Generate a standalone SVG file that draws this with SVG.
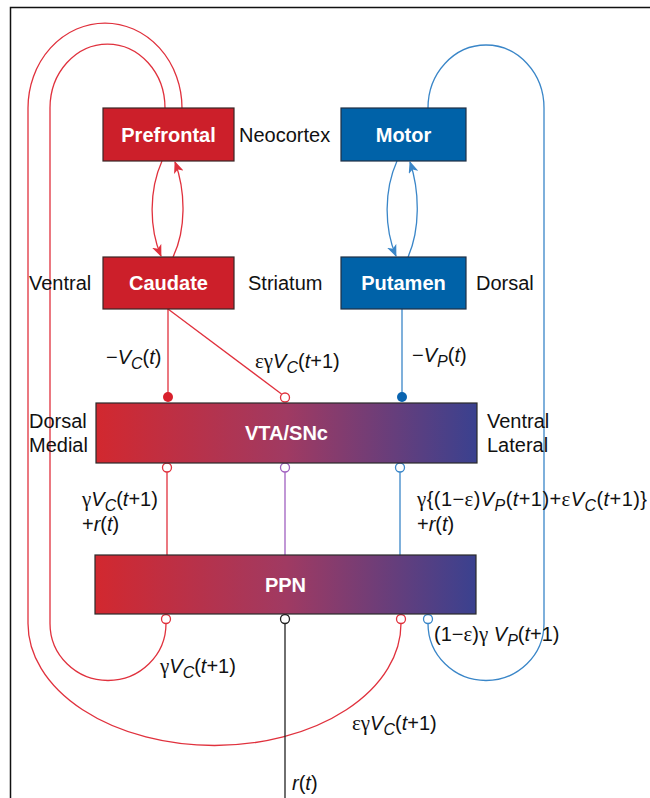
<svg xmlns="http://www.w3.org/2000/svg" width="650" height="798" viewBox="0 0 650 798">
<style>
.bxr{fill:#cc1f2a;stroke:#3a2626;stroke-width:1.2}
.bxb{fill:#0062a8;stroke:#1f2f45;stroke-width:1.2}
.bxg{stroke:#2a2a2a;stroke-width:1.2}
.bt{font-family:"Liberation Sans",Arial,sans-serif;font-weight:bold;font-size:20px;fill:#fff;text-anchor:middle}
.lb{font-family:"Liberation Sans",Arial,sans-serif;font-size:20px;fill:#111}
.m{font-family:"Liberation Sans",Arial,sans-serif;font-size:20px;fill:#111}
.i{font-style:italic}
.g{font-family:"Liberation Serif","Times New Roman",serif;font-style:normal;font-size:21px}
.s{font-size:16px;font-style:italic}
.lr{stroke:#e0313d;fill:none;stroke-width:1.3}
.lbl{stroke:#3a86c8;fill:none;stroke-width:1.3}
.lp{stroke:#a060c0;fill:none;stroke-width:1.3}
.lk{stroke:#222;fill:none;stroke-width:1.3}
.cor{fill:#fff;stroke:#e0313d;stroke-width:1.3}
.cob{fill:#fff;stroke:#3a86c8;stroke-width:1.3}
.cop{fill:#fff;stroke:#a060c0;stroke-width:1.3}
.cok{fill:#fff;stroke:#222;stroke-width:1.3}
</style>
<defs>
<linearGradient id="grad" x1="0" y1="0" x2="1" y2="0">
<stop offset="0" stop-color="#d2282f"/>
<stop offset="0.5" stop-color="#a03a62"/>
<stop offset="1" stop-color="#3a418f"/>
</linearGradient>
<marker id="ar" viewBox="0 0 12 10" refX="11" refY="5" markerWidth="12" markerHeight="10" markerUnits="userSpaceOnUse" orient="auto">
<path d="M0,0 L12,5 L0,10 L3,5 z" fill="#e0313d"/>
</marker>
<marker id="ab" viewBox="0 0 12 10" refX="11" refY="5" markerWidth="12" markerHeight="10" markerUnits="userSpaceOnUse" orient="auto">
<path d="M0,0 L12,5 L0,10 L3,5 z" fill="#3a86c8"/>
</marker>
</defs>
<rect width="650" height="798" fill="#fff"/>
<path d="M10.5 798 V7.5 H650" fill="none" stroke="#111" stroke-width="1.5"/>

<g id="connectors">
<path class="lr" d="M401 623.5 A186.5 122 0 0 1 28 623.5 L28 108 A77 85 0 0 1 182 108"/>
<path class="lr" d="M166 623.5 A58 57 0 0 1 50 623.5 L50 108 A57.5 64 0 0 1 165 108"/>
<path class="lbl" d="M428 623.5 A58 57 0 0 0 544 623.5 L544 108 A58 63 0 0 0 428 108"/>
<path class="lr" d="M162 161 C149 190 149 228 161 256" marker-end="url(#ar)"/>
<path class="lr" d="M173 257 C186 230 186 192 175 162" marker-end="url(#ar)"/>
<path class="lbl" d="M397 161 C384 190 384 228 396 256" marker-end="url(#ab)"/>
<path class="lbl" d="M408 257 C420 230 420 192 410 162" marker-end="url(#ab)"/>
<line class="lr" x1="168" y1="309" x2="168" y2="393"/>
<circle cx="168" cy="397" r="5" fill="#d8202c"/>
<line class="lr" x1="168" y1="309" x2="281.5" y2="394"/>
<circle class="cor" cx="285" cy="397.5" r="4.5"/>
<line class="lbl" x1="402" y1="309" x2="402" y2="393"/>
<circle cx="402" cy="397" r="5" fill="#0a64b0"/>
<line class="lr" x1="167" y1="472" x2="167" y2="555"/>
<circle class="cor" cx="167" cy="467.5" r="4.5"/>
<line class="lp" x1="285" y1="472" x2="285" y2="555"/>
<circle class="cop" cx="285" cy="467.5" r="4.5"/>
<line class="lbl" x1="400" y1="472" x2="400" y2="555"/>
<circle class="cob" cx="400" cy="467.5" r="4.5"/>
<circle class="cor" cx="166" cy="619" r="4.5"/>
<line class="lk" x1="285" y1="623.5" x2="285" y2="798"/>
<circle class="cok" cx="285" cy="619" r="4.5"/>
<circle class="cor" cx="401" cy="619" r="4.5"/>
<circle class="cob" cx="428" cy="619" r="4.5"/>
</g>

<g id="prefrontal"><rect class="bxr" x="103" y="108" width="131" height="53"/><text class="bt" x="168.5" y="142">Prefrontal</text></g>
<g id="motor"><rect class="bxb" x="341" y="108" width="125" height="53"/><text class="bt" x="403.5" y="142">Motor</text></g>
<g id="caudate"><rect class="bxr" x="103" y="257" width="131" height="52"/><text class="bt" x="168.5" y="290">Caudate</text></g>
<g id="putamen"><rect class="bxb" x="341" y="257" width="125" height="52"/><text class="bt" x="403.5" y="290">Putamen</text></g>
<g id="vta"><rect class="bxg" x="96" y="403" width="381" height="60" fill="url(#grad)"/><text class="bt" x="286.5" y="440">VTA/SNc</text></g>
<g id="ppn"><rect class="bxg" x="95" y="555" width="381" height="59" fill="url(#grad)"/><text class="bt" x="285.5" y="592">PPN</text></g>

<g id="labels">
<text class="lb" x="239" y="142">Neocortex</text>
<text class="lb" x="248" y="290">Striatum</text>
<text class="lb" x="29" y="290">Ventral</text>
<text class="lb" x="476" y="290">Dorsal</text>
<text class="lb" x="29" y="428">Dorsal</text>
<text class="lb" x="29" y="452">Medial</text>
<text class="lb" x="487" y="428">Ventral</text>
<text class="lb" x="487" y="452">Lateral</text>

<text class="m" x="106" y="364">−<tspan class="i">V</tspan><tspan class="s" dy="5">C</tspan><tspan dy="-5">(</tspan><tspan class="i">t</tspan>)</text>
<text class="m" x="255" y="368"><tspan class="g">εγ</tspan><tspan class="i">V</tspan><tspan class="s" dy="5">C</tspan><tspan dy="-5">(</tspan><tspan class="i">t</tspan>+1)</text>
<text class="m" x="412" y="362">−<tspan class="i">V</tspan><tspan class="s" dy="5">P</tspan><tspan dy="-5">(</tspan><tspan class="i">t</tspan>)</text>

<text class="m" x="82" y="506"><tspan class="g">γ</tspan><tspan class="i">V</tspan><tspan class="s" dy="5">C</tspan><tspan dy="-5">(</tspan><tspan class="i">t</tspan>+1)</text>
<text class="m" x="82" y="531">+<tspan class="i">r</tspan>(<tspan class="i">t</tspan>)</text>
<text class="m" x="417" y="506" textLength="230" lengthAdjust="spacing"><tspan class="g">γ</tspan>{(1−<tspan class="g">ε</tspan>)<tspan class="i">V</tspan><tspan class="s" dy="5">P</tspan><tspan dy="-5">(</tspan><tspan class="i">t</tspan>+1)+<tspan class="g">ε</tspan><tspan class="i">V</tspan><tspan class="s" dy="5">C</tspan><tspan dy="-5">(</tspan><tspan class="i">t</tspan>+1)}</text>
<text class="m" x="417" y="531">+<tspan class="i">r</tspan>(<tspan class="i">t</tspan>)</text>

<text class="m" x="434" y="641">(1−<tspan class="g">ε</tspan>)<tspan class="g">γ</tspan> <tspan class="i">V</tspan><tspan class="s" dy="5">P</tspan><tspan dy="-5">(</tspan><tspan class="i">t</tspan>+1)</text>
<text class="m" x="160" y="673"><tspan class="g">γ</tspan><tspan class="i">V</tspan><tspan class="s" dy="5">C</tspan><tspan dy="-5">(</tspan><tspan class="i">t</tspan>+1)</text>
<text class="m" x="352" y="730"><tspan class="g">εγ</tspan><tspan class="i">V</tspan><tspan class="s" dy="5">C</tspan><tspan dy="-5">(</tspan><tspan class="i">t</tspan>+1)</text>
<text class="m" x="292" y="790"><tspan class="i">r</tspan>(<tspan class="i">t</tspan>)</text>
</g>
</svg>
